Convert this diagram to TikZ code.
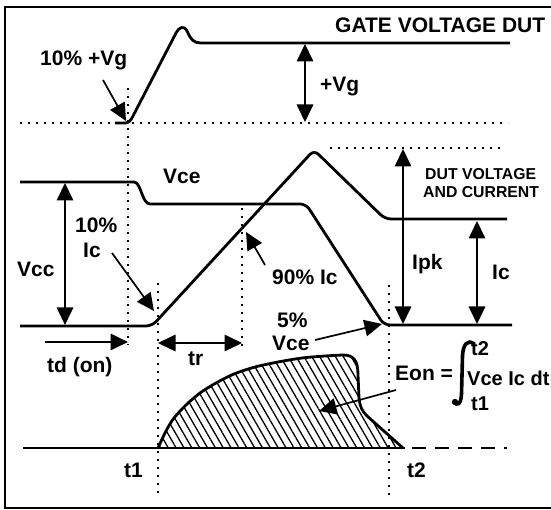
\documentclass[tikz,border=0pt]{standalone}
\usepackage{fontspec}
\setmainfont{Liberation Sans}
\usetikzlibrary{arrows.meta,patterns.meta}
\begin{document}
\begin{tikzpicture}[x=1pt,y=-1pt,
  wave/.style={line width=2.8pt, line join=round, rounded corners=6pt},
  dotline/.style={line width=1.8pt, dash pattern=on 1.8pt off 6.2pt},
  tip/.tip={Triangle[length=17.5pt,width=16.5pt]},
  arr/.style={line width=1.7pt, -tip},
  darr/.style={line width=1.7pt, tip-tip},
  lbl/.style={font=\bfseries\fontsize{21}{23}\selectfont, inner sep=0pt, anchor=base west},
  slbl/.style={font=\bfseries\fontsize{15.8}{17}\selectfont, inner sep=0pt, anchor=base west}]
\useasboundingbox (0,0) rectangle (551,510);
\fill[white] (0,0) rectangle (551,510);
\draw[line width=1.6pt] (5,7) rectangle (600,508);

% dotted guides
\draw[dotline] (20,123) -- (508,123);
\draw[dotline] (128,88) -- (128,345);
\draw[dotline] (330,148) -- (505,148);
\draw[dotline] (158,283) -- (158,493);
\draw[dotline] (242,208) -- (242,350);
\draw[dotline] (389,285) -- (389,495);

% gate waveform
\draw[line width=2.8pt, line join=round] (115,123) -- (125,123) .. controls (129,123) and (131,120) .. (133,116) -- (176,33) .. controls (179,27) and (184,25) .. (187,31) .. controls (191,40) and (194,43) .. (201,43) -- (510,43);

% Vce
\draw[wave] (20,182) -- (128,182) .. controls (141,182) and (142,204) .. (156,204) -- (306,204) -- (384,325) -- (512,325);
% Ic
\draw[wave] (20,326) -- (152,326) -- (314,150) -- (385,219) -- (507,219);

% baseline
\draw[line width=2pt] (23,448) -- (405,448);
\draw[line width=2pt, dash pattern=on 14pt off 9pt] (412,448) -- (507,448);

% Eon area
\path[pattern={Lines[angle=-60,distance=6.8pt,line width=1.3pt]}] plot[smooth] coordinates {(158,448) (166,431) (174,418) (186,405) (200,393) (216,383) (234,374) (255,367) (278,362) (302,358) (325,356) (343,355)} .. controls (354,355) and (358,361) .. (358,375) -- (359,398) .. controls (360,407) and (362,411) .. (367,416) -- (403,448) -- cycle;
\draw[line width=2.8pt, line join=round] plot[smooth] coordinates {(158,448) (166,431) (174,418) (186,405) (200,393) (216,383) (234,374) (255,367) (278,362) (302,358) (325,356) (343,355)} .. controls (354,355) and (358,361) .. (358,375) -- (359,398) .. controls (360,407) and (362,411) .. (367,416) -- (403,448);

% integral sign
\draw[line width=3.6pt, line cap=round] (474,344) .. controls (468,339) and (463,344) .. (462.5,356) -- (461.5,394) .. controls (461,405) and (457,406) .. (454,402);
\fill (455,402) circle (3.2pt);

% arrow coordinates
\coordinate (vgA) at (103,80);  \coordinate (vgB) at (126,121);
\coordinate (gvT) at (305,44);  \coordinate (gvB) at (305,122);
\coordinate (vccT) at (65,183); \coordinate (vccB) at (65,325);
\coordinate (icA) at (112,253); \coordinate (icB) at (154,311);
\coordinate (nA) at (265,265);  \coordinate (nB) at (246,232);
\coordinate (fA) at (315,340);  \coordinate (fB) at (382,324);
\coordinate (pkT) at (403,149); \coordinate (pkB) at (403,324);
\coordinate (icT) at (477,221); \coordinate (icBB) at (477,324);
\coordinate (tdA) at (45,342);  \coordinate (tdB) at (128,342);
\coordinate (trA) at (158,343); \coordinate (trB) at (242,343);
\coordinate (eA) at (396,390);  \coordinate (eB) at (319,411);

\draw[arr] (vgA) -- (vgB);
\draw[darr] (gvT) -- (gvB);
\draw[darr] (vccT) -- (vccB);
\draw[arr] (icA) -- (icB);
\draw[arr] (nA) -- (nB);
\draw[arr] (fA) -- (fB);
\draw[darr] (pkT) -- (pkB);
\draw[darr] (icT) -- (icBB);
\draw[arr] (tdA) -- (tdB);
\draw[darr] (trA) -- (trB);
\draw[arr] (eA) -- (eB);

% labels
\node[lbl] (title) at (335,33) {GATE VOLTAGE DUT};
\node[lbl] (tvg) at (40,66) {10\% +Vg};
\node[lbl] (pvg) at (320,92) {+Vg};
\node[lbl] (vce) at (163,184) {Vce};
\node[lbl] (tenp) at (75,233) {10\%};
\node[lbl] (tenic) at (83,258) {Ic};
\node[lbl] (vcc) at (17,277) {Vcc};
\node[lbl] (ninety) at (272,285) {90\% Ic};
\node[lbl] (fivep) at (277,327) {5\%};
\node[lbl] (fivev) at (272,350) {Vce};
\node[lbl] (ipk) at (412,270) {Ipk};
\node[lbl] (icr) at (492,280) {Ic};
\node[slbl] (dut1) at (425,180) {DUT VOLTAGE};
\node[slbl] (dut2) at (423,198) {AND CURRENT};
\node[lbl] (td) at (47,372) {td (on)};
\node[lbl] (tr) at (188,365) {tr};
\node[lbl, anchor=base east] (t1) at (143,477) {t1};
\node[lbl] (t2) at (407,477) {t2};
\node[lbl] (eon) at (395,380) {Eon =};
\node[lbl, font=\bfseries\fontsize{20}{22}\selectfont] (it2) at (471,355) {t2};
\node[lbl, font=\bfseries\fontsize{20}{22}\selectfont] (integ) at (467,385) {Vce Ic dt};
\node[lbl, font=\bfseries\fontsize{20}{22}\selectfont] (it1) at (471,410) {t1};
\end{tikzpicture}
\end{document}
